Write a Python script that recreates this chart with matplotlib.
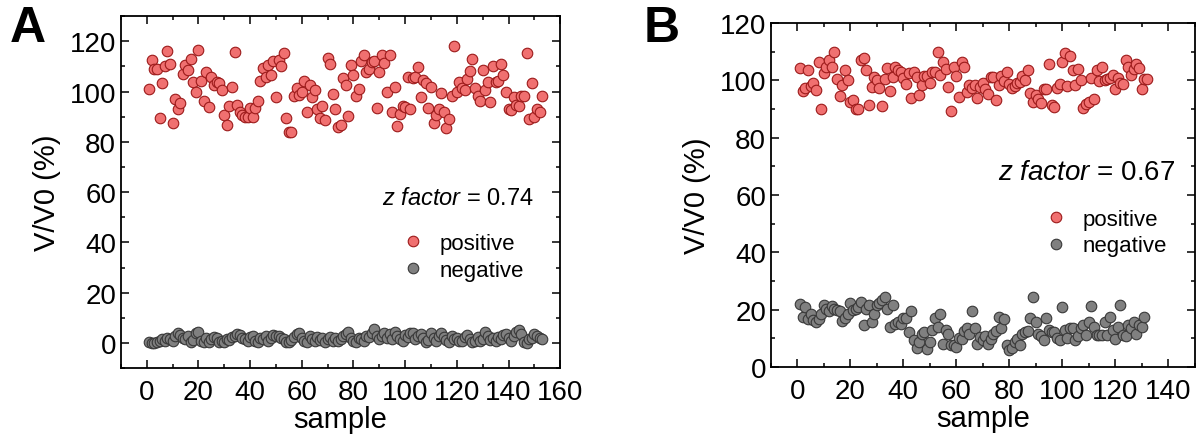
import matplotlib
matplotlib.use("Agg")
import matplotlib.pyplot as plt
import numpy as np
from matplotlib.ticker import MultipleLocator

plt.rcParams['font.family'] = ['Liberation Sans', 'DejaVu Sans']
plt.rcParams['mathtext.fontset'] = 'custom'
plt.rcParams['mathtext.rm'] = 'Liberation Sans'
plt.rcParams['mathtext.it'] = 'Liberation Sans:italic'

# panel A: values, sample index 1..n
a_pos = [101, 112.6, 109, 108.8, 89.5, 103.3, 110.3, 116.3, 111, 87.4,
         97, 93, 95.5, 107, 110.6, 108.7, 113, 103.7, 99.7, 116.7,
         104.4, 96.4, 107.7, 93.8, 105.7, 102.6, 104, 103.3, 100.8, 90.5,
         86.9, 94.2, 102, 115.6, 94.7, 91.8, 90.5, 89.8, 89.8, 93.4,
         89.8, 93.4, 96.4, 104.4, 109.3, 105.7, 110.6, 106.4, 112.3, 98,
         112.6, 110.3, 115.4, 89.5, 84.1, 84.1, 98.4, 101.3, 98.7, 100,
         104.4, 91.8, 102.6, 97.7, 100.8, 93.1, 89.4, 94.2, 88.5, 113.2,
         111, 99, 93.1, 86.1, 86.8, 105.3, 102.6, 90.2, 110.7, 106.4,
         98.4, 101, 112.3, 114.6, 107.7, 109, 111.7, 112.3, 93.4, 107.7,
         114.6, 111.3, 100, 114.6, 91.8, 101.7, 86.5, 91.1, 94.2, 93.8,
         105.7, 93.1, 105.3, 105.7, 109.7, 97.7, 104.6, 103.3, 93.4, 101.7,
         87.5, 90.7, 93.1, 99.3, 92, 85.4, 89.1, 98.1, 118.3, 100,
         103.7, 101.3, 100.8, 105, 108.3, 113, 101.3, 98.1, 96.4, 108.7,
         100.8, 104, 95.8, 110, 104, 104.4, 111, 106.6, 99.7, 93.1,
         92.8, 98, 94.7, 94.2, 98.1, 98.1, 115.4, 89.1, 103.3, 89.8,
         93.1, 91.8, 98.1]
a_neg = [0.3, 0.2, 0.0, 0.5, 1.0, 1.5, 0.8, 2.2, 1.8, 1.0,
         3.0, 3.8, 3.2, 2.0, 1.5, 2.8, 0.5, 1.2, 4.0, 4.3,
         1.0, 0.3, 2.0, 0.5, 1.5, 2.5, 2.0, 0.5, 1.0, 0.3,
         1.8, 1.2, 2.5, 3.0, 3.5, 3.2, 2.0, 1.5, 0.8, 2.5,
         3.0, 1.0, 0.5, 2.2, 1.5, 2.8, 0.8, 2.0, 3.2, 2.8,
         3.0, 2.0, 1.5, 0.5, 0.3, 1.2, 2.5, 3.5, 3.8, 2.0,
         1.0, 0.5, 2.8, 1.5, 0.8, 2.5, 1.2, 2.0, 0.5, 1.8,
         2.5, 1.0, 2.0, 0.8, 1.5, 2.8, 3.5, 4.5, 2.0, 1.0,
         0.5, 2.2, 1.5, 0.8, 3.0, 2.5, 4.0, 5.5, 3.0, 1.5,
         2.8, 4.0, 2.2, 3.5, 1.8, 4.2, 3.0, 1.5, 0.8, 3.2,
         2.5, 4.0, 3.8, 1.5, 2.8, 3.5, 2.0, 0.5, 1.2, 3.8,
         2.0, 0.8, 3.0, 4.0, 2.5, 1.2, 0.5, 2.8, 1.5, 2.2,
         1.0, 0.8, 2.5, 3.2, 1.5, 0.5, 1.0, 2.5, 0.8, 1.5,
         4.5, 3.0, 1.2, 2.0, 0.8, 2.5, 1.8, 3.2, 3.5, 2.0,
         1.0, 2.8, 4.5, 5.0, 3.5, 0.5, 0.2, 1.5, 2.0, 3.5,
         3.0, 2.0, 1.5]

# panel B
b_pos = [104.3, 96.2, 97.5, 103.5, 98, 99.2, 96.5, 106.4, 89.9, 102.7,
         104.7, 107, 104.7, 110.1, 100.6, 94.5, 98.3, 103.5, 100.3, 92.4,
         93, 90.1, 90.1, 107, 107.8, 103.8, 91.3, 97.7, 101.2, 100,
         97.3, 91, 100.6, 104.3, 96.2, 101.2, 104.7, 103.5, 103.1, 101,
         98.8, 102.7, 93.8, 103.1, 101.2, 94.8, 98.3, 101.5, 101.5, 99.2,
         102.9, 103.1, 110.1, 102, 106.4, 104.1, 97.7, 89.2, 104.7, 101.5,
         94.2, 106.6, 104.7, 95.9, 98.5, 97.3, 98.5, 93.8, 97.7, 99.2,
         97.1, 95.3, 101.2, 101.2, 93, 98.3, 101.5, 99.7, 103.1, 98.8,
         97.3, 98, 99.2, 99.4, 101.5, 100, 103.5, 95.7, 92.4, 94.8,
         93.6, 92.2, 96.9, 96.9, 105.8, 91.5, 90.7, 97.3, 98.8, 106.4,
         109.7, 98, 108.5, 103.5, 98.5, 104.1, 100, 90.3, 91.9, 92.4,
         100.8, 93.6, 103.8, 99.7, 104.7, 100.3, 100.6, 100.8, 102, 97.1,
         100.8, 99.2, 98.8, 107, 104.7, 102, 104.1, 105.8, 104.3, 96.9,
         100.6, 100.6]
b_neg = [22.1, 17.4, 20.9, 16.6, 18.6, 16.3, 15.7, 16.6, 18.3, 21.7,
         20.3, 19.4, 21.3, 20.1, 19.8, 19.5, 15.9, 17.1, 18.6, 22.4,
         19.8, 20.3, 21, 22.7, 14.5, 20.3, 21.5, 15.7, 18.6, 21.7,
         22.4, 23.3, 24.4, 20.3, 14, 21.7, 15.1, 15.7, 15.1, 16.9,
         17.1, 12.2, 19.5, 9.3, 6.6, 8.7, 11.6, 12.2, 6.4, 8.7,
         12.8, 16.9, 14, 18.3, 8.1, 12.8, 11.6, 7.6, 7.6, 7,
         10.1, 9.9, 12.4, 13.6, 11.6, 19.4, 13.4, 8.1, 10.5, 9.3,
         10.8, 8.1, 9.9, 11.6, 12.4, 17.4, 13.6, 16.6, 7.6, 5.8,
         6.6, 8.7, 9.7, 7.8, 11.6, 12.2, 12.4, 17.1, 24.4, 15.7,
         11.6, 10.8, 9.3, 17.1, 12.8, 12.2, 12.2, 10.1, 9.3, 20.9,
         12.8, 10.1, 13.4, 13.6, 9.3, 10.8, 13.4, 14.5, 11, 15.7,
         21.3, 14, 11.3, 11, 11, 15.7, 11, 17.4, 12.8, 9.9,
         14, 21.5, 11.3, 10.8, 14.5, 13.4, 15.7, 11.6, 14.5, 14,
         17.4]

pos_face, pos_edge = '#f07070', '#9c1a1a'
neg_face, neg_edge = '#808080', '#383838'
ms = 7.6


def style_axes(ax):
    ax.tick_params(which='both', direction='in', top=True, right=True,
                   labelsize=20, width=1.1)
    ax.tick_params(which='major', length=6)
    ax.tick_params(axis='x', which='major', pad=8)
    ax.tick_params(which='minor', length=2.6)
    for sp in ax.spines.values():
        sp.set_linewidth(1.3)
    ax.xaxis.set_minor_locator(MultipleLocator(10))
    ax.yaxis.set_minor_locator(MultipleLocator(10))
    ax.set_xlabel('sample', fontsize=21, labelpad=0)
    ax.set_ylabel('V/V0 (%)', fontsize=21, labelpad=6)


def draw(ax, pos, neg):
    ax.plot(np.arange(1, len(pos) + 1), pos, 'o', ms=ms, mfc=pos_face,
            mec=pos_edge, mew=0.8, label='positive')
    ax.plot(np.arange(1, len(neg) + 1), neg, 'o', ms=ms, mfc=neg_face,
            mec=neg_edge, mew=0.8, label='negative')


fig = plt.figure(figsize=(11.97, 4.39), dpi=100)

axA = fig.add_axes([0.101, 0.159, 0.367, 0.802])
draw(axA, a_pos, a_neg)
axA.set_xlim(-10, 160)
axA.set_ylim(-10, 130)
axA.set_xticks(np.arange(0, 161, 20))
axA.set_yticks(np.arange(0, 121, 20))
style_axes(axA)
axA.text(0.94, 0.483, r'$\it{z\ factor}$ = 0.74', transform=axA.transAxes,
         ha='right', va='center', fontsize=17)
axA.legend(loc='upper left', bbox_to_anchor=(0.61, 0.415), frameon=False,
           fontsize=16, handletextpad=0.6, labelspacing=0.25, borderpad=0,
           handlelength=1.2)

axB = fig.add_axes([0.644, 0.162, 0.354, 0.783])
draw(axB, b_pos, b_neg)
axB.set_xlim(-10, 150)
axB.set_ylim(0, 120)
axB.set_xticks(np.arange(0, 141, 20))
axB.set_yticks(np.arange(0, 121, 20))
style_axes(axB)
axB.text(0.955, 0.567, r'$\it{z\ factor}$ = 0.67', transform=axB.transAxes,
         ha='right', va='center', fontsize=20)
axB.legend(loc='upper left', bbox_to_anchor=(0.615, 0.492), frameon=False,
           fontsize=16, handletextpad=0.6, labelspacing=0.25, borderpad=0,
           handlelength=1.2)

fig.text(0.008, 0.935, 'A', fontsize=36, fontweight='bold', va='center')
fig.text(0.538, 0.935, 'B', fontsize=36, fontweight='bold', va='center')

fig.savefig('out.png', dpi=100)
